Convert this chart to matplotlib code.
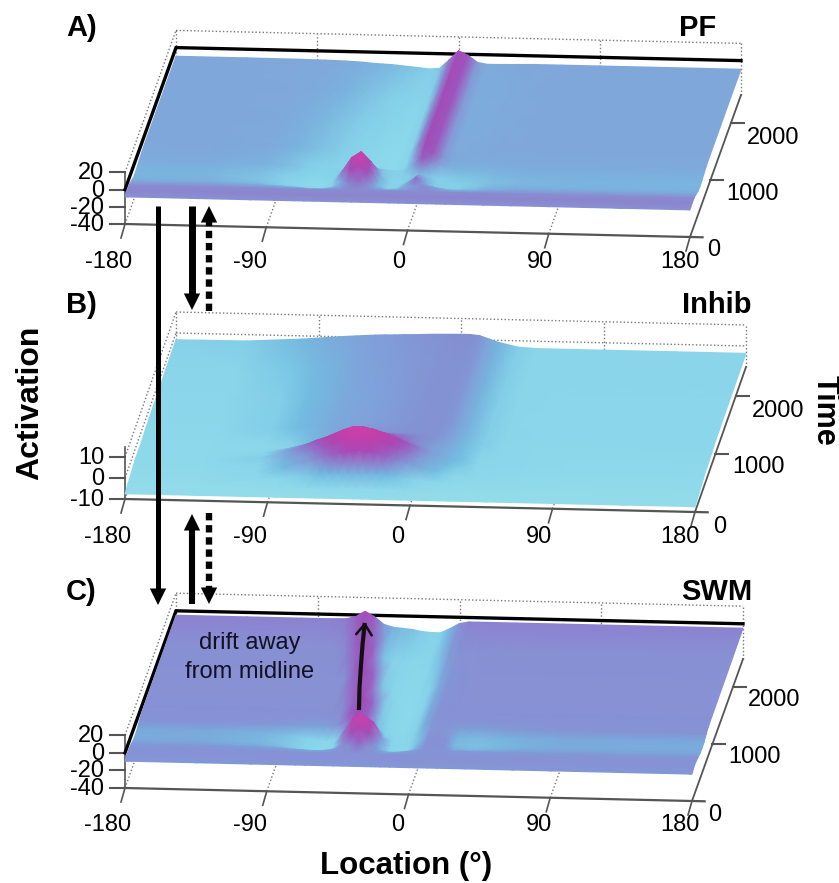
#!/usr/bin/env python3

import numpy as np
import matplotlib
matplotlib.use("Agg")
import matplotlib.pyplot as plt
from matplotlib.colors import LinearSegmentedColormap

plt.rcParams['font.family'] = ['Liberation Sans', 'DejaVu Sans']

# grid the surfaces were read on
loc = [-180,-135,-100,-85,-72,-66,-60,-54,-48,-42,-36,-30,-24,-18,-12,-6,0,6,12,18,24,36,48,66,90,135,180]
times = [0,100,200,300,400,500,600,700,800,1000,1500,2000,2500]

loc_ticks = [-180,-90,0,90,180]
time_ticks = [0,1000,2000]

# PF activation, one row per time
pf = [
 [-8.5]*27,
 [-7.5]*27,
 [-8]*27,
 [-10,-10,-11,-12,-13,-14,-14,-13,-11,-8,-6,-8,-11,-13,-13,-11,-9,-8,-9,-11,-12,-12,-11,-10,-10,-10,-10],
 [-13,-13,-15,-18,-21,-22,-22,-20,-12,2,7,0,-14,-20,-18,-12,-5,-11,-17,-18,-18,-16,-14,-13,-13,-13,-13],
 [-13.5,-13.5,-16,-20,-23,-24,-24,-20,-6,10,17,6,-12,-20,-21,-17,-9,-14,-18,-19,-19,-17,-15,-14,-13.5,-13.5,-13.5],
 [-13,-13,-15,-18,-21,-22,-22,-20,-14,-2,5,-4,-16,-20,-20,-18,-14,-16,-18,-17,-16,-15,-14,-13,-13,-13,-13],
 [-11.5,-11.5,-13,-15,-18,-19,-19,-19,-19,-17,-14,-15,-17,-18,-18,-12,-3,-8,-10,-12,-13,-13,-12,-11.5,-11.5,-11.5,-11.5],
 [-10.5,-10.5,-12,-15,-18,-19,-20,-20,-21,-21,-22,-23,-24,-24,-22,-10,2,-3,-9,-10.5,-11,-11,-10.5,-10.5,-10.5,-10.5,-10.5],
 [-10,-10,-11,-13,-15,-16,-17,-19,-20,-21,-22,-23,-24,-24,-21,-8,3,-2,-9,-11,-11,-10.5,-10,-10,-10,-10,-10],
 [-10,-10,-10.5,-12,-14,-15,-16,-17,-18,-19,-20,-21,-22,-23,-20,-8,3,-1.5,-9,-11,-11.5,-11,-10.5,-10,-10,-10,-10],
 [-10,-10,-10.2,-11,-12,-13,-14,-15,-16,-17,-18,-19,-20,-21,-19,-8,3.5,-1.5,-9,-11,-11.5,-11,-10.5,-10,-10,-10,-10],
 [-10,-10,-10.2,-10.5,-11,-11.5,-12,-13,-13.5,-14,-15,-16,-17,-18,-17,-7,4,-1,-9,-11,-11,-10.5,-10,-10,-10,-10,-10],
]

# Inhib activation
inhib = [
 [-7.5]*27,
 [-7,-7,-6.8,-6.5,-6.2,-6,-5.8,-5.6,-5.5,-5.5,-5.5,-5.5,-5.5,-5.6,-5.8,-6,-6.2,-6.5,-6.8,-7,-7,-7,-7,-7,-7,-7,-7],
 [-6.5,-6.5,-5,-4,-3,-2.5,-2,-1.8,-1.5,-1.3,-1.3,-1.3,-1.5,-1.8,-2.3,-2.8,-3.2,-3.6,-4.2,-5,-5.5,-6,-6,-6.5,-6.5,-6.5,-6.5],
 [-6,-6,-4,-2,0.5,1.5,3,4.5,6,7,7.5,7,6,4.5,3,1.5,0,-1,-2,-3,-3.5,-4.5,-5,-5.5,-6,-6,-6],
 [-5.5,-5.5,-3.5,-1,2,3.5,5.5,7.5,9.5,11,11,10.5,9,7.5,5.5,3.5,1.5,0,-1,-2,-2.8,-4,-4.5,-5,-5.5,-5.5,-5.5],
 [-5,-5,-3,0.5,4,6,7.5,9.5,11.5,13,13,12,10.5,9,7,5,3,1.5,0,-1,-2,-3.5,-4,-4.5,-5,-5,-5],
 [-5,-5,-3.5,-1,1.5,3,4.5,6,7.5,9,9.5,9,7.5,6,4.5,3,2,1,0,-1,-2,-3.5,-4,-4.5,-5,-5,-5],
 [-5,-5,-4.5,-3.5,-2,-1,0.5,1.5,3,4,4.5,4.5,4.5,4,3.5,3,2.5,2,1,-0.5,-2,-3.2,-4,-4.5,-4.8,-4.8,-4.8],
 [-5,-5,-4,-3,-1.5,-1,0,0.8,1.5,2,2.2,2.2,2.2,2.2,2.3,2.3,2.3,2.3,1.5,0,-1.5,-3,-3.8,-4.3,-4.5,-4.5,-4.5],
 [-4.5,-4.3,-3,-2,-1,-0.5,0,0.3,0.5,0.7,1,1.2,1.5,1.8,2,2.2,2.3,2.3,2,0.5,-1,-3,-3.5,-4,-4,-4,-4],
 [-4,-3.8,-3,-2,-1,-0.5,0,0.3,0.5,0.7,1,1.2,1.5,1.8,2,2.2,2.3,2.3,2,0.5,-1,-3,-3.5,-3.8,-3.8,-3.8,-3.8],
 [-3.5,-3.4,-2.5,-1.5,-0.7,-0.3,0.2,0.6,0.9,1.1,1.3,1.5,1.7,1.9,2,2.2,2.3,2.3,2,0.5,-1,-3,-3.5,-3.6,-3.6,-3.6,-3.6],
 [-3.2,-3,-1.5,-0.5,0.3,0.6,0.9,1.2,1.4,1.5,1.7,1.8,2,2.2,2.3,2.4,2.5,2.5,2,0.5,-1,-3,-3.5,-3.5,-3.5,-3.5,-3.5],
]

# SWM activation, the ridge moves left with time
swm = [
 [-9.5]*27,
 [-7.5]*27,
 [-8]*27,
 [-9.5,-9.5,-10,-10.5,-11.5,-12,-12,-11,-9,-6,-3,-6,-10,-12,-12,-11,-10,-8,-7.5,-8.5,-9.5,-9.5,-9.5,-9.5,-9.5,-9.5,-9.5],
 [-11.5,-11.5,-13,-15,-19,-21,-22,-19,-10,2,8,2,-12,-21,-22,-18,-13,-8,-7,-9,-13,-14,-13,-12,-11.5,-11.5,-11.5],
 [-12,-12,-13.5,-16,-20,-22,-23,-20,-4,12,17,10,-8,-20,-23,-20,-14,-8,-6.5,-9,-14,-15,-14,-13,-12,-12,-12],
 [-11.5,-11.5,-13,-15,-18,-20,-21,-18,-6,8,9,2,-14,-20,-22,-19,-14,-9,-8,-10,-13,-14,-13,-12,-11.5,-11.5,-11.5],
 [-9,-9,-9.5,-10,-11,-11,-10.5,-9,-4,4,0,-12,-19,-21,-22,-19,-13,-9.5,-9,-9.5,-10.5,-11,-10,-9.5,-9,-9,-9],
 [-7.5,-7.5,-7.5,-7.5,-7.5,-7.5,-7.5,-6,-2,4,-2,-15,-20,-23,-23,-19,-12,-9,-8,-8,-8,-8,-7.5,-7.5,-7.5,-7.5,-7.5],
 [-7,-7,-7,-7,-7,-7,-6.5,-5.5,-2,4,-2,-16,-21,-23,-23,-19,-12,-9,-7.5,-7,-7,-7,-7,-7,-7,-7,-7],
 [-6.5,-6.5,-6.5,-6.5,-6.5,-6.5,-6.5,-2,4,-2,-16,-20,-22,-23,-22,-18,-12,-9,-7.5,-7,-6.5,-6.5,-6.5,-6.5,-6.5,-6.5,-6.5],
 [-6,-6,-6,-6,-6,-5.5,-2,4,-2,-15,-19,-20,-21,-21,-20,-15,-10,-8,-7,-6.5,-6,-6,-6,-6,-6,-6,-6],
 [-5,-5,-5,-5,-4.5,-2,4.5,-1.5,-10,-13,-14,-15,-17,-18,-18,-13,-7,-5,-5,-5,-5,-5,-5,-5,-5,-5,-5],
]

# activation -> colour for each panel
pf_colors = [(-24,'#8cd9ec'),(-18,'#84cfe8'),(-13,'#7ab2de'),(-9.7,'#81a6da'),(-8.6,'#8892d4'),(-7,'#8c80cc'),(-4,'#9a5cc0'),(3,'#a24cb8'),(9,'#b844b0'),(17,'#d43fa8')]
inhib_colors = [(-7.5,'#92dcea'),(-3.4,'#8ad5ea'),(-2,'#72bde2'),(-0.5,'#7aaedc'),(1,'#80a0da'),(2.3,'#8392d2'),(4,'#9070c8'),(7,'#a848b8'),(10,'#c040a8'),(13,'#cc3fa8')]
swm_colors = [(-24,'#8cd9ec'),(-18,'#86d2ea'),(-13,'#78b4de'),(-11,'#7ca4da'),(-9,'#8494d6'),(-6,'#8890d4'),(-3,'#9468c8'),(3,'#a04cb8'),(9,'#b844b0'),(17,'#d03fa8')]


def make_cmap(nodes):
    lo,hi=nodes[0][0],nodes[-1][0]
    pts=[((z-lo)/(hi-lo),c) for z,c in nodes]
    return LinearSegmentedColormap.from_list("act",pts,N=512),lo,hi


def panel(ax,z,colors,left,right,zs,zticks,zlabels,ztop,loc_lab_y,time_lab,tick_lab_x,line=True,back_lines=(),by=-142):
    # left/right: floor corners at time 0, zs: pixels per activation unit
    x0,y0=left
    dx,dy=right[0]-left[0],right[1]-left[1]
    bx=51
    zmin=zticks[-1]

    def proj(l,t,a):
        u=(np.asarray(l,float)+180)/360
        v=np.asarray(t,float)/2500
        return x0+dx*u+bx*v, y0+dy*u+by*v-zs*(np.asarray(a,float)-zmin)

    grey='#555555'
    dot=dict(color='#777777',lw=1,ls=(0,(1,1.6)),zorder=1)
    # dotted box behind the surface
    ax.plot(*proj([-180,-180],[0,2500],[zmin,zmin]),**dot)
    ax.plot(*proj([-180,-180],[0,2500],[ztop,ztop]),**dot)
    ax.plot(*proj([-180,-180],[2500,2500],[zmin,ztop]),**dot)
    ax.plot(*proj([-180,180],[2500,2500],[ztop,ztop]),**dot)
    ax.plot(*proj([180,180],[2500,2500],[zmin,ztop]),**dot)
    for l in [-90,0,90]:
        ax.plot(*proj([l,l],[0,2500],[zmin,zmin]),**dot)
        ax.plot(*proj([l,l],[2500,2500],[zmin,ztop]),**dot)
    for b in back_lines:
        ax.plot(*proj([-180,180],[2500,2500],[b,b]),**dot)
        ax.plot(*proj([-180,-180],[0,2500],[b,b]),**dot)

    # axes
    ax.plot(*proj([-180,188],[0,0],[zmin,zmin]),color=grey,lw=1.6,zorder=1)
    ax.plot(*proj([180,180],[0,2500],[zmin,zmin]),color=grey,lw=1.3,zorder=1)
    ax.plot(*proj([-180,-180],[0,0],[zmin,zticks[0]+(5 if not line else 0)]),color=grey,lw=1.2,zorder=1)
    for a,lab in zip(zticks,zlabels):
        xt,yt=proj(-180,0,a)
        ax.plot([xt-15,xt],[yt,yt],color=grey,lw=1.5,zorder=1)
        ax.text(xt-21,yt+1,lab,ha='right',va='center',fontsize=17)
    for l,xl in zip(loc_ticks,tick_lab_x):
        xt,yt=proj(l,0,zmin)
        ax.plot([xt,xt-4],[yt,yt+14],color=grey,lw=1.2,zorder=1)
        ax.text(xl,loc_lab_y,str(l),ha='center',va='center',fontsize=17)
    for t,(xl,yl) in zip(time_ticks,time_lab):
        xt,yt=proj(180,t,zmin)
        if t>0:
            ax.plot([xt,xt+13],[yt,yt],color=grey,lw=1.5,zorder=1)
        ax.text(xl,yl,str(t),ha='center',va='center',fontsize=17)

    # thick outline at activation 0, behind the surface
    if line:
        ax.plot(*proj([-180,-180,180],[0,2500,2500],[0,0,0]),color='black',lw=2.4,zorder=2,solid_joinstyle='miter')

    # back rows first so that nearer rows cover them
    L,T=np.meshgrid(loc,times)
    Z=np.array(z,float)
    X,Y=proj(L,T,Z)
    cmap,lo,hi=make_cmap(colors)
    ax.pcolormesh(X[::-1],Y[::-1],Z[::-1],shading='gouraud',cmap=cmap,vmin=lo,vmax=hi,zorder=3)


fig=plt.figure(figsize=(8.39,8.83),dpi=100)
ax=fig.add_axes([0,0,1,1])
ax.set_xlim(0,839)
ax.set_ylim(883,0)
ax.axis('off')

panel(ax,pf,pf_colors,(125,224),(690,237),0.86,[20,0,-20,-40],['20','0','-20','-40'],20,262,
      [(714,250),(752,194),(773,138)],[109,250,399,540,680])
panel(ax,inhib,inhib_colors,(125,499),(695,512),2.1,[10,0,-10],['10','0','-10'],10,537,
      [(720,527),(758,467),(778,411)],[108,250,398,539,680],line=False,back_lines=[0],by=-145)
panel(ax,swm,swm_colors,(125,788),(692,801),0.88,[20,0,-20,-40],['20','0','-20','-40'],20,825,
      [(715,815),(754,757),(774,700)],[108,250,398,539,680])

# arrows between the panels
def arrow(start,end,lw=5,dashed=False,head=0.42):
    sgn=1 if end[1]>start[1] else -1
    ls=(0,(1.15,0.75)) if dashed else '-'
    ax.plot([start[0],end[0]],[start[1],end[1]-sgn*9],color='black',lw=lw,ls=ls,zorder=6,solid_capstyle='butt',dash_capstyle='butt')
    ax.annotate('',xy=end,xytext=(end[0],end[1]-sgn*14),zorder=6,
                arrowprops=dict(arrowstyle='-|>,head_width=%g,head_length=0.85'%head,color='black',
                                lw=0,shrinkA=0,shrinkB=0,mutation_scale=14))

arrow((158,206),(158,605),lw=3.6)
arrow((192,206),(192,310),lw=5)
arrow((209,311),(209,206),lw=4.6,dashed=True)
arrow((192,604),(192,514),lw=4.4)
arrow((209,513),(209,604),lw=4.6,dashed=True)

# drift arrow on the SWM ridge
drift_x=[359,359.5,361,362.5,364.5]
drift_y=[708,688,665,645,625]
ax.plot(drift_x,drift_y,color='#111111',lw=3,zorder=7)
ax.annotate('',xy=(365,622),xytext=(363.5,640),zorder=7,
            arrowprops=dict(arrowstyle='->,head_width=0.4,head_length=0.55',color='#111111',lw=1.8,shrinkA=0,shrinkB=0,mutation_scale=14))

ax.text(250,643,'drift away',ha='center',va='center',fontsize=17,color='#111122',zorder=7)
ax.text(250,672,'from midline',ha='center',va='center',fontsize=17,color='#111122',zorder=7)

# panel letters and titles
for txt,y in [('A)',28),('B)',305),('C)',592)]:
    ax.text(66,y,txt,ha='left',va='center',fontsize=21,fontweight='bold')
for txt,y in [('PF',28),('Inhib',305),('SWM',592)]:
    ax.text(752 if txt!='PF' else 716,y,txt,ha='right',va='center',fontsize=21,fontweight='bold')

ax.text(30,403,'Activation',rotation=90,ha='center',va='center',fontsize=23,fontweight='bold')
ax.text(825,410,'Time',rotation=270,ha='center',va='center',fontsize=22,fontweight='bold')
ax.text(406,866,'Location (°)',ha='center',va='center',fontsize=22.5,fontweight='bold')

fig.savefig('out.png',dpi=100)
